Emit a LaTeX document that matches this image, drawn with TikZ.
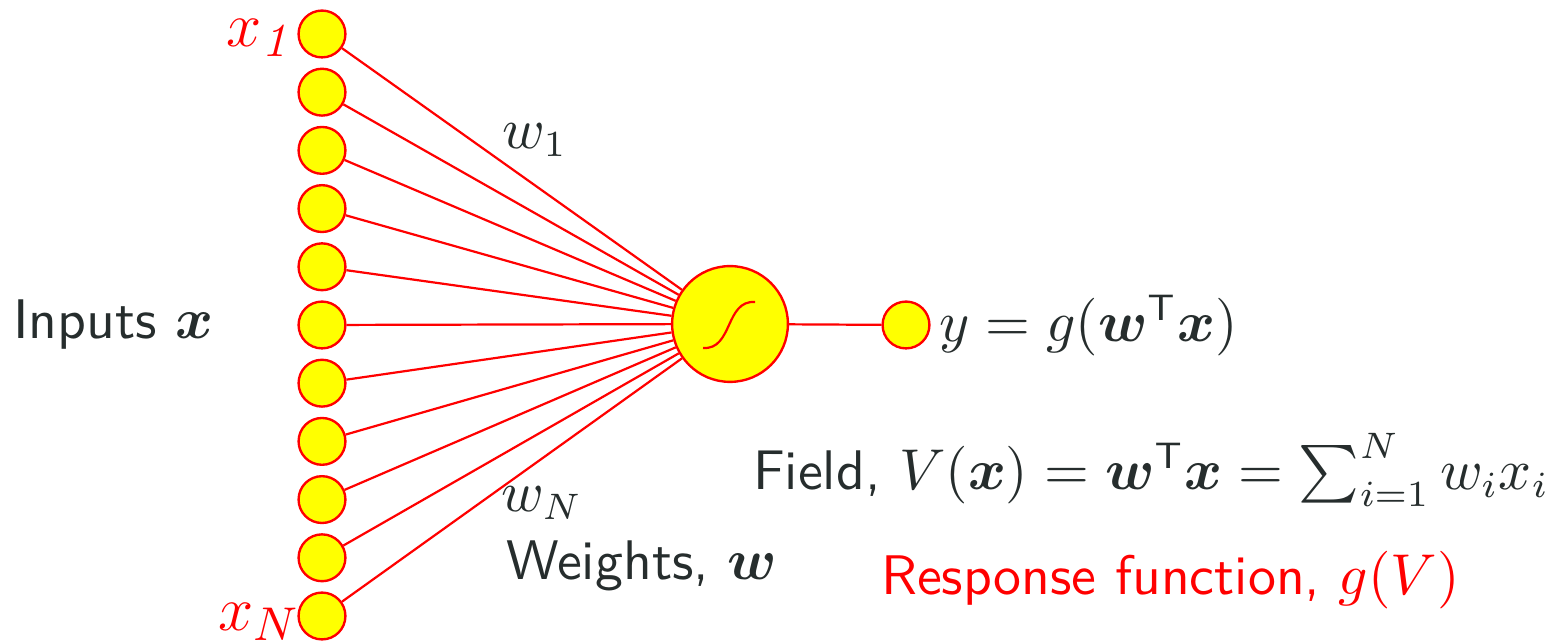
\documentclass[tikz,border=0pt]{standalone}
\usepackage{amsmath}
\usepackage{bm}
\definecolor{txt}{RGB}{38,45,45}
\definecolor{nred}{RGB}{255,0,0}
\definecolor{nyel}{RGB}{255,255,0}
\begin{document}
\begin{tikzpicture}[x=0.19pt,y=-0.19pt,
  inp/.style={circle,draw=nred,fill=nyel,line width=0.45pt,minimum size=8.9pt,inner sep=0pt},
  big/.style={circle,draw=nred,fill=nyel,line width=0.45pt,minimum size=22pt,inner sep=0pt},
  wire/.style={draw=nred,line width=0.42pt},
  lbl/.style={text=txt,font=\fontsize{10.6}{13}\selectfont\sffamily,inner sep=0pt},
  rlbl/.style={text=nred,font=\fontsize{10.6}{13}\selectfont\sffamily,inner sep=0pt},
  xlbl/.style={text=nred,font=\fontsize{13}{13}\selectfont,inner sep=0pt}]
\useasboundingbox (0,0) rectangle (1552,644);
\foreach \i in {1,...,11}{
  \node[inp] (in\i) at (322,{34+(\i-1)*58.2}) {};
}
\node[big] (c) at (730,324) {};
\node[inp] (out) at (906,325) {};
\foreach \i in {1,...,11}{
  \draw[wire] (in\i) -- (c);
}
\draw[wire] (c) -- (out);
\draw[nred,line width=0.42pt] (703,348) .. controls (733,350) and (725,300) .. (755,302);
\node[xlbl] (x1) at (261,38) {$x_{\mathit{1}}$};
\node[xlbl] (xN) at (259,622) {$x_{N}$};
\node[lbl,anchor=west] (inputs) at (12,325) {Inputs $\bm{x}$};
\node[lbl] (w1) at (535,140) {$w_1$};
\node[lbl] (wN) at (542,503) {$w_N$};
\node[lbl,anchor=west] (weights) at (505,566) {Weights, $\bm{w}$};
\node[lbl,anchor=west] (y) at (938,325) {$y=g(\bm{w}^{\mathsf{T}}\bm{x})$};
\node[lbl,anchor=west] (field) at (752,470) {Field, $V(\bm{x})=\bm{w}^{\mathsf{T}}\bm{x}=\sum_{i=1}^{N} w_i x_i$};
\node[rlbl,anchor=west] (resp) at (880,580) {Response function, $g(V)$};
\end{tikzpicture}
\end{document}
